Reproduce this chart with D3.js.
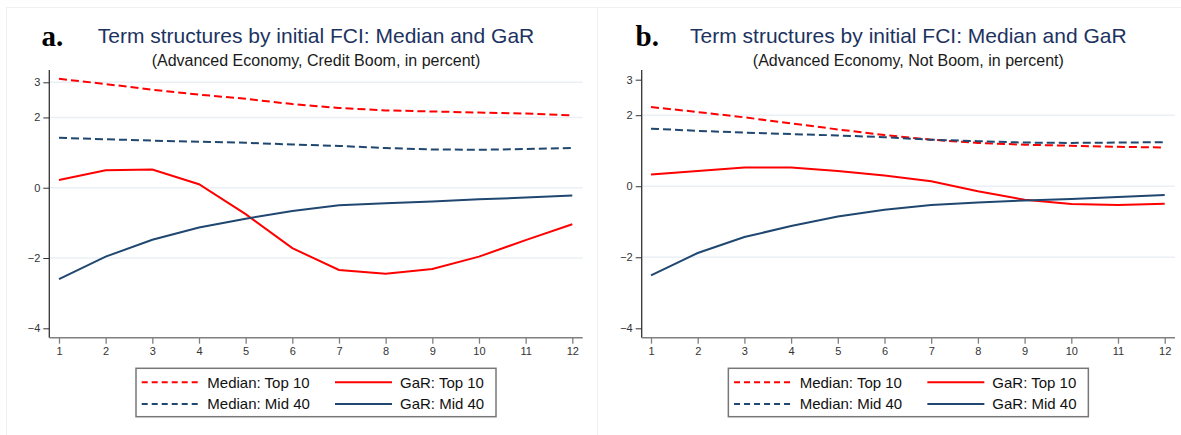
<!DOCTYPE html>
<html>
<head>
<meta charset="utf-8">
<script src="https://cdn.jsdelivr.net/npm/d3@7/dist/d3.min.js"></script>
<style>
  html, body { margin: 0; padding: 0; background: #fff; }
  svg { display: block; }
  text { font-family: "Liberation Sans", Arial, sans-serif; }
</style>
</head>
<body>
<svg id="chart" width="1181" height="435"></svg>
<script>
// ---------- data ----------
const horizons = [1, 2, 3, 4, 5, 6, 7, 8, 9, 10, 11, 12];
const yTickValues = [-4, -2, 0, 2, 3];

const titleText = "Term structures by initial FCI: Median and GaR";
const subtitleBoom = "(Advanced Economy, Credit Boom, in percent)";
const subtitleNotBoom = "(Advanced Economy, Not Boom, in percent)";
const seriesNames = ["Median: Top 10", "GaR: Top 10", "Median: Mid 40", "GaR: Mid 40"];

// Panel a: Credit Boom
const boomMedianTop10 = [3.10, 2.95, 2.79, 2.65, 2.53, 2.38, 2.27, 2.20, 2.17, 2.14, 2.11, 2.06];
const boomMedianMid40 = [1.42, 1.38, 1.34, 1.31, 1.28, 1.23, 1.19, 1.13, 1.09, 1.08, 1.10, 1.13];
const boomGarTop10    = [0.22, 0.50, 0.52, 0.10, -0.75, -1.72, -2.34, -2.45, -2.31, -1.96, -1.49, -1.04];
const boomGarMid40    = [-2.60, -1.96, -1.48, -1.13, -0.88, -0.66, -0.50, -0.44, -0.39, -0.33, -0.28, -0.22];

// Panel b: Not Boom
const notBoomMedianTop10 = [2.23, 2.09, 1.94, 1.77, 1.60, 1.44, 1.31, 1.22, 1.17, 1.14, 1.11, 1.09];
const notBoomMedianMid40 = [1.62, 1.56, 1.51, 1.47, 1.43, 1.38, 1.31, 1.27, 1.23, 1.22, 1.23, 1.24];
const notBoomGarTop10    = [0.33, 0.43, 0.53, 0.53, 0.43, 0.30, 0.14, -0.14, -0.38, -0.50, -0.53, -0.49];
const notBoomGarMid40    = [-2.51, -1.88, -1.43, -1.12, -0.85, -0.66, -0.53, -0.46, -0.40, -0.36, -0.30, -0.25];

// ---------- styles ----------
const RED = "#ff0000";
const NAVY = "#1f4770";
const TITLE_COLOR = "#1c3361";
const GRID = "#eaf0f5";

const svg = d3.select("#chart");

// faint panel frames
svg.append("rect").attr("x", 6.5).attr("y", 7.5).attr("width", 591).attr("height", 440)
  .attr("fill", "none").attr("stroke", "#f0f0f0");
svg.append("rect").attr("x", 597.5).attr("y", 7.5).attr("width", 600).attr("height", 440)
  .attr("fill", "none").attr("stroke", "#f0f0f0");

function drawPanel(cfg) {
  const g = svg.append("g");
  const x = d3.scaleLinear().domain([1, 12]).range([cfg.x1, cfg.x12]);
  const y = d3.scaleLinear().domain([-4, 3]).range([cfg.yMin, cfg.yMax]);

  // gridlines
  g.append("g").selectAll("line")
    .data(yTickValues.filter(v => cfg.gridVals.includes(v)))
    .join("line")
    .attr("x1", cfg.axisX).attr("x2", cfg.plotRight)
    .attr("y1", d => y(d)).attr("y2", d => y(d))
    .attr("stroke", GRID).attr("stroke-width", 1.5);

  // y axis
  const yAxis = d3.axisLeft(y).tickValues(yTickValues).tickSize(6).tickPadding(3).tickFormat(d3.format("d"));
  const ya = g.append("g").attr("transform", `translate(${cfg.axisX},0)`).call(yAxis);
  ya.select(".domain").remove();
  ya.append("line").attr("x1", 0).attr("x2", 0).attr("y1", cfg.axisTop).attr("y2", cfg.axisBottom)
    .attr("stroke", "#333").attr("stroke-width", 1.3);
  ya.selectAll(".tick line").attr("stroke", "#333");
  ya.selectAll(".tick text").attr("fill", "#333").style("font-size", "11px")
    .style("font-family", "'Liberation Sans', Arial, sans-serif");

  // x axis
  const xAxis = d3.axisBottom(x).tickValues(horizons).tickSize(6).tickPadding(4).tickFormat(d3.format("d"));
  const xa = g.append("g").attr("transform", `translate(0,${cfg.axisBottom})`).call(xAxis);
  xa.select(".domain").remove();
  xa.append("line").attr("x1", cfg.axisX).attr("x2", cfg.plotRight).attr("y1", 0).attr("y2", 0)
    .attr("stroke", "#808080").attr("stroke-width", 1.5);
  xa.selectAll(".tick line").attr("stroke", "#808080").attr("stroke-width", 1.3);
  xa.selectAll(".tick text").attr("fill", "#333").style("font-size", "11px")
    .style("font-family", "'Liberation Sans', Arial, sans-serif");

  // lines
  const line = d3.line().x((d, i) => x(horizons[i])).y(d => y(d));
  const series = [
    { v: cfg.medTop, color: RED, dash: "8,4" },
    { v: cfg.medMid, color: NAVY, dash: "8,4" },
    { v: cfg.garTop, color: RED, dash: null },
    { v: cfg.garMid, color: NAVY, dash: null }
  ];
  series.forEach(s => {
    g.append("path").datum(s.v).attr("d", line)
      .attr("fill", "none").attr("stroke", s.color).attr("stroke-width", 2)
      .attr("stroke-dasharray", s.dash);
  });

  // titles
  const cx = (cfg.axisX + cfg.plotRight) / 2;
  g.append("text").attr("x", cx).attr("y", 42.5).attr("text-anchor", "middle")
    .attr("fill", TITLE_COLOR).style("font-size", "21px").text(titleText);
  g.append("text").attr("x", cx).attr("y", 65.5).attr("text-anchor", "middle")
    .attr("fill", "#1a1a1a").style("font-size", "16px").text(cfg.subtitle);
  g.append("text").attr("x", cfg.labelX).attr("y", 45.7)
    .style("font-family", "'Liberation Serif', 'Times New Roman', serif")
    .style("font-weight", "bold").style("font-size", "29px").attr("fill", "#000")
    .text(cfg.label);

  // legend
  const lw = 360, lh = 48.4;
  const lx = cx - lw / 2, ly = 368.3;
  const lg = g.append("g").attr("transform", `translate(${lx},${ly})`);
  lg.append("rect").attr("width", lw).attr("height", lh)
    .attr("fill", "#fff").attr("stroke", "#777").attr("stroke-width", 1.5);
  const items = [
    { name: seriesNames[0], color: RED, dash: "6,4", col: 0, row: 0 },
    { name: seriesNames[1], color: RED, dash: null, col: 1, row: 0 },
    { name: seriesNames[2], color: NAVY, dash: "6,4", col: 0, row: 1 },
    { name: seriesNames[3], color: NAVY, dash: null, col: 1, row: 1 }
  ];
  items.forEach(it => {
    const sx = it.col === 0 ? 5.7 : 199;
    const tx = it.col === 0 ? 71.3 : 264;
    const ry = it.row === 0 ? 14 : 35.7;
    lg.append("line").attr("x1", sx).attr("x2", sx + 57).attr("y1", ry).attr("y2", ry)
      .attr("stroke", it.color).attr("stroke-width", 2).attr("stroke-dasharray", it.dash);
    lg.append("text").attr("x", tx).attr("y", ry).attr("dy", "0.36em")
      .attr("fill", "#111").style("font-size", "15px").text(it.name);
  });
}

drawPanel({
  x1: 59, x12: 572.3, axisX: 49.3, plotRight: 582.7,
  yMin: 328.3, yMax: 82.3, axisTop: 70, axisBottom: 337.7,
  gridVals: [3, 2, 0, -2],
  medTop: boomMedianTop10, medMid: boomMedianMid40, garTop: boomGarTop10, garMid: boomGarMid40,
  subtitle: subtitleBoom, label: "a.", labelX: 41.5
});

drawPanel({
  x1: 651, x12: 1164.7, axisX: 641.7, plotRight: 1175,
  yMin: 328.3, yMax: 79.7, axisTop: 70, axisBottom: 337.7,
  gridVals: [2, 0, -2],
  medTop: notBoomMedianTop10, medMid: notBoomMedianMid40, garTop: notBoomGarTop10, garMid: notBoomGarMid40,
  subtitle: subtitleNotBoom, label: "b.", labelX: 635.5
});
</script>
</body>
</html>
